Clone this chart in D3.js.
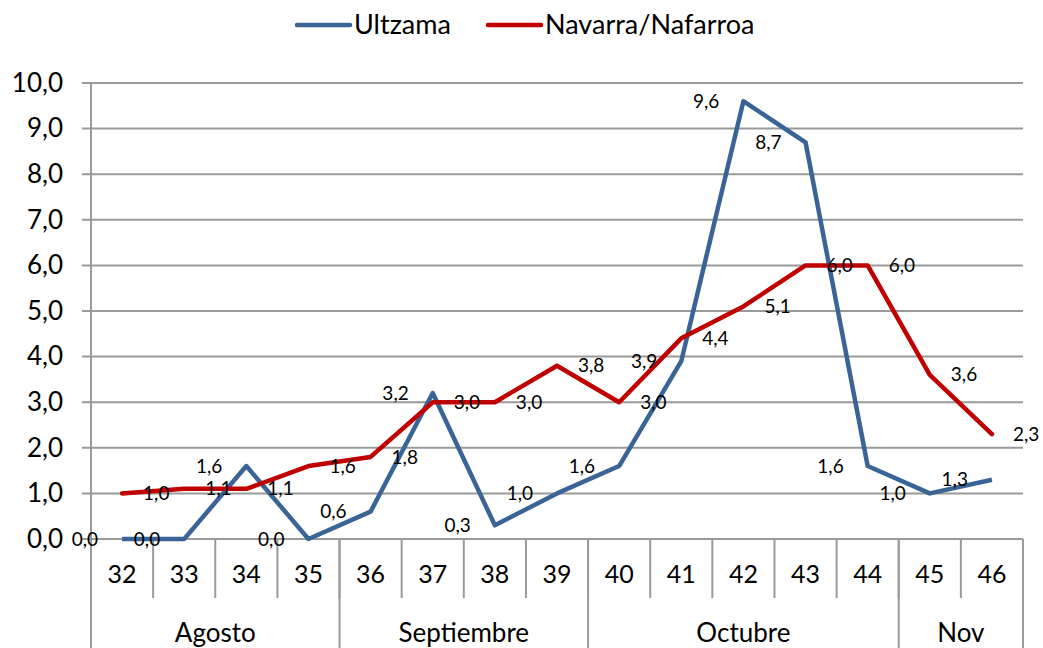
<!DOCTYPE html>
<html lang="es">
<head>
<meta charset="UTF-8">
<title>Ultzama - Navarra/Nafarroa</title>
<script src="https://d3js.org/d3.v7.min.js"></script>
<style>
  body { margin: 0; background: #fff; }
  svg text { font-family: Lato, "Noto Sans", sans-serif; fill: #000; }
</style>
</head>
<body>
<script>
  // semanas y meses
  const weeks = ["32", "33", "34", "35", "36", "37", "38", "39", "40", "41", "42", "43", "44", "45", "46"];
  const months = [
    { name: "Agosto", from: "32", to: "35" },
    { name: "Septiembre", from: "36", to: "39" },
    { name: "Octubre", from: "40", to: "44" },
    { name: "Nov", from: "45", to: "46" }
  ];
  const ultzama = [0.0, 0.0, 1.6, 0.0, 0.6, 3.2, 0.3, 1.0, 1.6, 3.9, 9.6, 8.7, 1.6, 1.0, 1.3];
  const navarra = [1.0, 1.1, 1.1, 1.6, 1.8, 3.0, 3.0, 3.8, 3.0, 4.4, 5.1, 6.0, 6.0, 3.6, 2.3];
  const yTicks = [0, 1, 2, 3, 4, 5, 6, 7, 8, 9, 10];

  const width = 1043, height = 648;
  const plotL = 91, plotR = 1023, plotT = 83, plotB = 539;
  const grey = "#9a9a9a";
  const fmt = v => d3.format(".1f")(v).replace(".", ",");

  const svg = d3.select("body").append("svg")
      .attr("width", width)
      .attr("height", height);

  const x = d3.scaleBand().domain(weeks).range([plotL, plotR]);
  const y = d3.scaleLinear().domain([0, 10]).range([plotB, plotT]);
  const cx = w => x(w) + x.bandwidth() / 2;

  // rejilla horizontal
  svg.append("g").selectAll("line")
    .data(yTicks)
    .join("line")
      .attr("x1", plotL - 9).attr("x2", plotR)
      .attr("y1", d => y(d)).attr("y2", d => y(d))
      .attr("stroke", grey).attr("stroke-width", 2);

  // eje y
  const yAxis = svg.append("g")
      .attr("transform", `translate(${plotL},0)`)
      .call(d3.axisLeft(y).tickValues(yTicks).tickFormat(fmt).tickSize(0).tickPadding(28));
  yAxis.select(".domain").remove();
  yAxis.selectAll("text").attr("font-size", 26);

  svg.append("line")
      .attr("x1", plotL).attr("x2", plotL)
      .attr("y1", plotT).attr("y2", height)
      .attr("stroke", grey).attr("stroke-width", 2);

  // eje x: semanas
  const xAxis = svg.append("g")
      .attr("transform", `translate(0,${plotB})`)
      .call(d3.axisBottom(x).tickSize(0).tickPadding(26));
  xAxis.select(".domain").remove();
  xAxis.selectAll("text").attr("font-size", 25);

  svg.append("g").selectAll("line")
    .data(weeks.slice(1).concat(["end"]))
    .join("line")
      .attr("x1", d => d === "end" ? plotR : x(d))
      .attr("x2", d => d === "end" ? plotR : x(d))
      .attr("y1", plotB)
      .attr("y2", d => d === "end" ? height : 598)
      .attr("stroke", grey).attr("stroke-width", 2);

  // meses
  svg.append("g").selectAll("line")
    .data(months.slice(1))
    .join("line")
      .attr("x1", d => x(d.from)).attr("x2", d => x(d.from))
      .attr("y1", plotB).attr("y2", height)
      .attr("stroke", grey).attr("stroke-width", 2);

  svg.append("g").selectAll("text")
    .data(months)
    .join("text")
      .attr("x", d => (x(d.from) + x(d.to) + x.bandwidth()) / 2)
      .attr("y", 633)
      .attr("dy", "0.35em")
      .attr("text-anchor", "middle")
      .attr("font-size", 26)
      .text(d => d.name);

  // líneas
  const line = d3.line().x((d, i) => cx(weeks[i])).y(d => y(d));

  svg.append("path").datum(ultzama)
      .attr("d", line)
      .attr("fill", "none")
      .attr("stroke", "#3a6496").attr("stroke-width", 4.5)
      .attr("stroke-linejoin", "round");

  svg.append("path").datum(navarra)
      .attr("d", line)
      .attr("fill", "none")
      .attr("stroke", "#c00000").attr("stroke-width", 4.5)
      .attr("stroke-linejoin", "round").attr("stroke-linecap", "round");

  // etiquetas de datos
  svg.append("g").selectAll("text")
    .data(ultzama)
    .join("text")
      .attr("x", (d, i) => cx(weeks[i]) - 24)
      .attr("y", d => y(d))
      .attr("dy", "0.35em")
      .attr("text-anchor", "end")
      .attr("font-size", 19)
      .text(fmt);

  svg.append("g").selectAll("text")
    .data(navarra)
    .join("text")
      .attr("x", (d, i) => cx(weeks[i]) + 21)
      .attr("y", d => y(d))
      .attr("dy", "0.35em")
      .attr("text-anchor", "start")
      .attr("font-size", 19)
      .text(fmt);

  // leyenda
  const legend = [
    { name: "Ultzama", color: "#3a6496", x0: 297 },
    { name: "Navarra/Nafarroa", color: "#c00000", x0: 488 }
  ];
  const lg = svg.append("g").selectAll("g")
    .data(legend)
    .join("g")
      .attr("transform", d => `translate(${d.x0},25)`);
  lg.append("line")
      .attr("x1", 0).attr("x2", 53)
      .attr("stroke", d => d.color).attr("stroke-width", 4.5)
      .attr("stroke-linecap", "round");
  lg.append("text")
      .attr("x", 57).attr("dy", "0.35em")
      .attr("font-size", 27)
      .text(d => d.name);
</script>
</body>
</html>
